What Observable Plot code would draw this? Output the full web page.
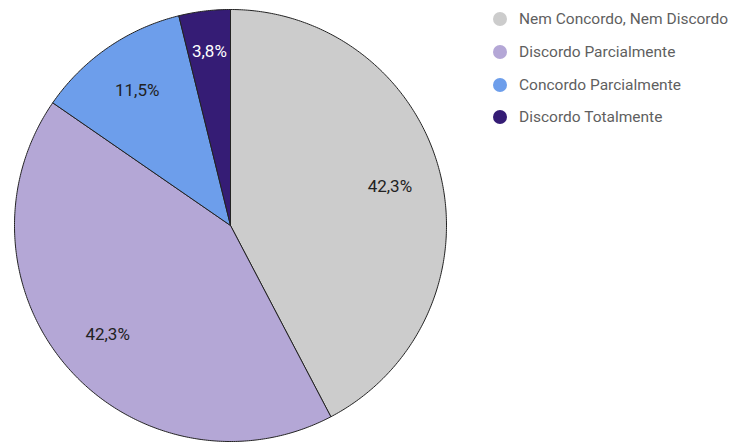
<!DOCTYPE html>
<html>
<head>
<meta charset="utf-8">
<script src="https://cdn.jsdelivr.net/npm/d3@7"></script>
<script src="https://cdn.jsdelivr.net/npm/@observablehq/plot@0.6"></script>
<style>
  html, body { margin: 0; padding: 0; background: #fff; }
  #wrap { position: relative; width: 733px; height: 444px; font-family: Roboto, sans-serif; }
  #legend { position: absolute; left: 493px; top: 3px; }
  .item { display: flex; align-items: center; height: 32.7px; font-size: 15.5px; color: #5f5f5f; white-space: nowrap; }
  .sw { width: 14px; height: 14px; border-radius: 50%; margin-right: 12px; }
</style>
</head>
<body>
<div id="wrap"><div id="legend"></div></div>
<script>
const categories = ["Nem Concordo, Nem Discordo", "Discordo Parcialmente", "Concordo Parcialmente", "Discordo Totalmente"];
const counts = [11, 11, 3, 1];
const labels = ["42,3%", "42,3%", "11,5%", "3,8%"];
const colors = ["#cccccc", "#b4a7d6", "#6d9eeb", "#351c75"];
const labelColors = ["#222", "#222", "#222", "#ffffff"];

const arcs = d3.pie().sort(null)(counts);
// outline points (unit circle, angle measured clockwise from top)
const poly = [];
arcs.forEach((a, i) => {
  poly.push({x: 0, y: 0, k: i});
  const n = Math.max(2, Math.ceil((a.endAngle - a.startAngle) / 0.01));
  for (let j = 0; j <= n; j++) {
    const t = a.startAngle + (a.endAngle - a.startAngle) * j / n;
    poly.push({x: Math.sin(t), y: Math.cos(t), k: i});
  }
  poly.push({x: 0, y: 0, k: i});
});
const lab = arcs.map((a, i) => {
  const m = (a.startAngle + a.endAngle) / 2;
  const r = i === 3 ? 0.81 : 0.76;
  return {x: r * Math.sin(m), y: r * Math.cos(m), text: labels[i], c: labelColors[i]};
});

const chart = Plot.plot({
  width: 733,
  height: 444,
  margin: 0,
  x: {domain: [-1, 1], range: [14, 446], axis: null},
  y: {domain: [-1, 1], range: [441, 9], axis: null},
  style: {fontFamily: "Roboto, sans-serif", background: "transparent"},
  marks: [
    Plot.line(poly, {x: "x", y: "y", z: "k", fill: d => colors[d.k], stroke: "#222", strokeWidth: 1, curve: "linear", strokeLinejoin: "round"}),
    Plot.text(lab, {x: "x", y: "y", text: "text", fill: "c", fontSize: 17})
  ]
});
document.getElementById("wrap").prepend(chart);
chart.style.position = "absolute";
chart.style.left = "0";
chart.style.top = "0";

const leg = document.getElementById("legend");
categories.forEach((c, i) => {
  const it = document.createElement("div");
  it.className = "item";
  const sw = document.createElement("div");
  sw.className = "sw";
  sw.style.background = colors[i];
  const tx = document.createElement("span");
  tx.textContent = c;
  it.append(sw, tx);
  leg.append(it);
});
</script>
</body>
</html>
